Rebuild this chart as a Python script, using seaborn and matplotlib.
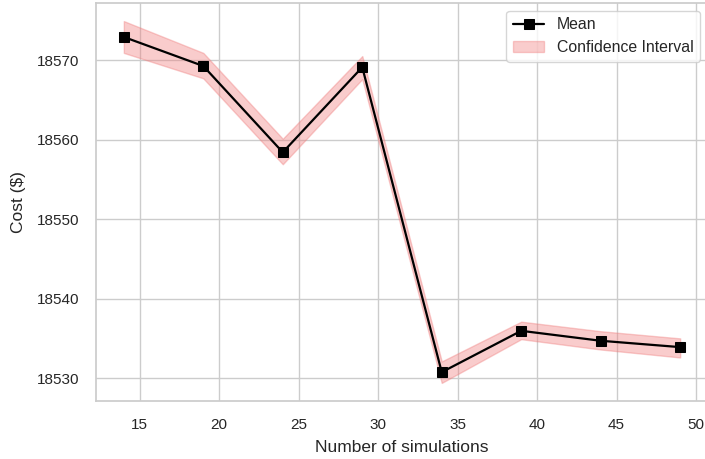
import matplotlib
matplotlib.use("Agg")
import matplotlib.pyplot as plt
import seaborn as sns
import pandas as pd

# Simulation counts and resulting cost statistics
n_sims = [14, 19, 24, 29, 34, 39, 44, 49]
mean_cost = [18572.9, 18569.25, 18558.4, 18569.1, 18530.75, 18535.95, 18534.7, 18533.9]
ci_lower = [18570.9, 18567.7, 18556.9, 18567.6, 18529.4, 18534.9, 18533.6, 18532.6]
ci_upper = [18574.9, 18570.9, 18560.1, 18570.5, 18532.1, 18537.1, 18535.9, 18535.0]

sns.set_theme(style="whitegrid")
plt.rcParams["font.family"] = ["Liberation Sans", "DejaVu Sans"]

df = pd.DataFrame({"n": n_sims, "mean": mean_cost})

fig = plt.figure(figsize=(7.05, 4.59), dpi=100)
ax = fig.add_axes([96 / 705, 58 / 459, 612 / 705, 398 / 459])

ax.fill_between(n_sims, ci_lower, ci_upper, color="lightcoral", alpha=0.4,
                label="Confidence Interval")
sns.lineplot(data=df, x="n", y="mean", ax=ax, color="black", marker="s",
             markersize=6.5, markeredgecolor="black", linewidth=1.6, label="Mean")

ax.set_xlabel("Number of simulations", fontsize=12.5, labelpad=6)
ax.set_ylabel("Cost ($)", fontsize=12.5, labelpad=8)
ax.tick_params(labelsize=11, pad=6)

handles, labels = ax.get_legend_handles_labels()
order = [labels.index("Mean"), labels.index("Confidence Interval")]
ax.legend([handles[i] for i in order], [labels[i] for i in order],
          loc="upper right", fontsize=11.4)

fig.savefig("out.png", dpi=100)
